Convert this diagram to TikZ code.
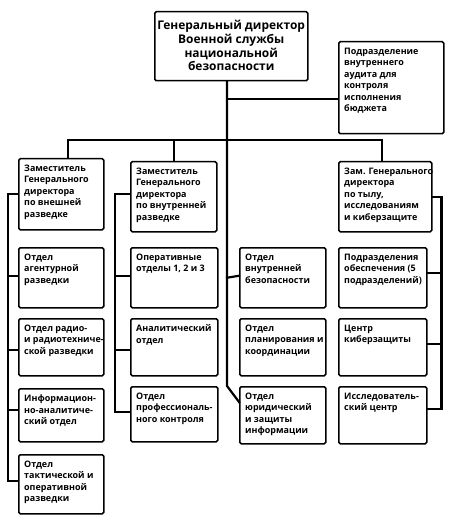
\documentclass[tikz,border=0pt]{standalone}
\usepackage{fontspec}
\setmainfont{Open Sans}
\tikzset{
  obox/.style={draw=black, line width=1.5bp, rounded corners=1.5bp, fill=white, inner sep=0pt},
  otext/.style={inner sep=0pt, align=left, font=\fontsize{9}{11.6}\selectfont\bfseries},
  conn/.style={line width=2.2bp, line cap=rect},
}
\newcommand\ob[6]{%
  \node[obox, anchor=north west, minimum width=#4bp, minimum height=#5bp] (#1) at (#2,#3) {};
  \node[otext, anchor=north west] (#1t) at ([xshift=6bp,yshift=-6.5bp]#1.north west) {#6};}
\begin{document}
\begin{tikzpicture}[x=1bp,y=-1bp]
\useasboundingbox (0,0) rectangle (453,522);
\fill[white] (0,0) rectangle (453,522);
% coordinates
\coordinate (hub) at (227,140);
\coordinate (busL) at (68,140);
\coordinate (busR) at (382,140);
% top
\node[obox, anchor=north west, minimum width=153bp, minimum height=69bp] (top) at (154,11) {};
\node[inner sep=0pt, align=center, font=\fontsize{12}{13.7}\selectfont\bfseries] (topt) at ([yshift=0.5bp]top.center) {Генеральный директор\\Военной службы\\национальной\\безопасности};
\ob{audit}{338}{41}{105}{92}{Подразделение\\внутреннего\\аудита для\\контроля\\исполнения\\бюджета}
% deputies
\ob{dep1}{18}{158}{85}{71}{Заместитель\\Генерального\\директора\\по внешней\\разведке}
\ob{dep2}{130}{161}{86}{70}{Заместитель\\Генерального\\директора\\по внутренней\\разведке}
\ob{dep4}{338}{161}{93}{70}{Зам. Генерального\\директора\\по тылу,\\исследованиям\\и киберзащите}
% column 1
\ob{c1r1}{18}{247}{85}{60}{Отдел\\агентурной\\разведки}
\ob{c1r2}{18}{318}{85}{57}{Отдел радио-\\и радиотехниче-\\ской разведки}
\ob{c1r3}{18}{388}{85}{53}{Информацион-\\но-аналитиче-\\ский отдел}
\ob{c1r4}{18}{454}{85}{59}{Отдел\\тактической и\\оперативной\\разведки}
% column 2
\ob{c2r1}{130}{247}{87}{60}{Оперативные\\отделы 1, 2 и 3}
\ob{c2r2}{130}{318}{87}{57}{Аналитический\\отдел}
\ob{c2r3}{130}{386}{87}{55}{Отдел\\профессиональ-\\ного контроля}
% column 3
\ob{c3r1}{239}{247}{86}{60}{Отдел\\внутренней\\безопасности}
\ob{c3r2}{239}{318}{86}{57}{Отдел\\планирования и\\координации}
\ob{c3r3}{239}{386}{86}{57}{Отдел\\юридический\\и защиты\\информации}
% column 4
\ob{c4r1}{338}{247}{88}{60}{Подразделения\\обеспечения (5\\подразделений)}
\ob{c4r2}{338}{318}{88}{57}{Центр\\киберзащиты}
\ob{c4r3}{338}{386}{88}{57}{Исследователь-\\ский центр}
% connectors: top part
\draw[conn] (top.south -| hub) -- (hub |- c3r3.north) -- ([yshift=-16bp]c3r3.north west);
\draw[conn] (hub |- c3r1.west) -- ([yshift=2bp]c3r1.west);
\draw[conn] ([yshift=-11bp]audit.west -| hub) -- ([yshift=-11bp]audit.west);
\draw[conn] (busL) -- (busR);
\draw[conn] (busL) -- (busL |- dep1.north);
\draw[conn] (dep2.north |- hub) -- (dep2.north);
\draw[conn] (busR) -- (busR |- dep4.north);
% column 1
\draw[conn] (dep1.west) -- ++(-10,0) |- ([yshift=3bp]c1r4.west);
\draw[conn] ([yshift=2bp]c1r1.west) -- ++(-10,0);
\draw[conn] ([yshift=-3bp]c1r2.west) -- ++(-10,0);
\draw[conn] ([yshift=5bp]c1r3.west) -- ++(-10,0);
% column 2
\draw[conn] ([yshift=3bp]dep2.west) -- ++(-15,0) |- ([yshift=2bp]c2r3.west);
\draw[conn] ([yshift=2bp]c2r1.west) -- ++(-15,0);
\draw[conn] ([yshift=-3bp]c2r2.west) -- ++(-15,0);
% column 4
\draw[conn] (dep4.east) -- ++(9,0) |- ([yshift=6bp]c4r3.east);
\draw[conn] ([yshift=5bp]c4r1.east) -- ++(14,0);
\draw[conn] ([yshift=3bp]c4r2.east) -- ++(14,0);
\end{tikzpicture}
\end{document}
